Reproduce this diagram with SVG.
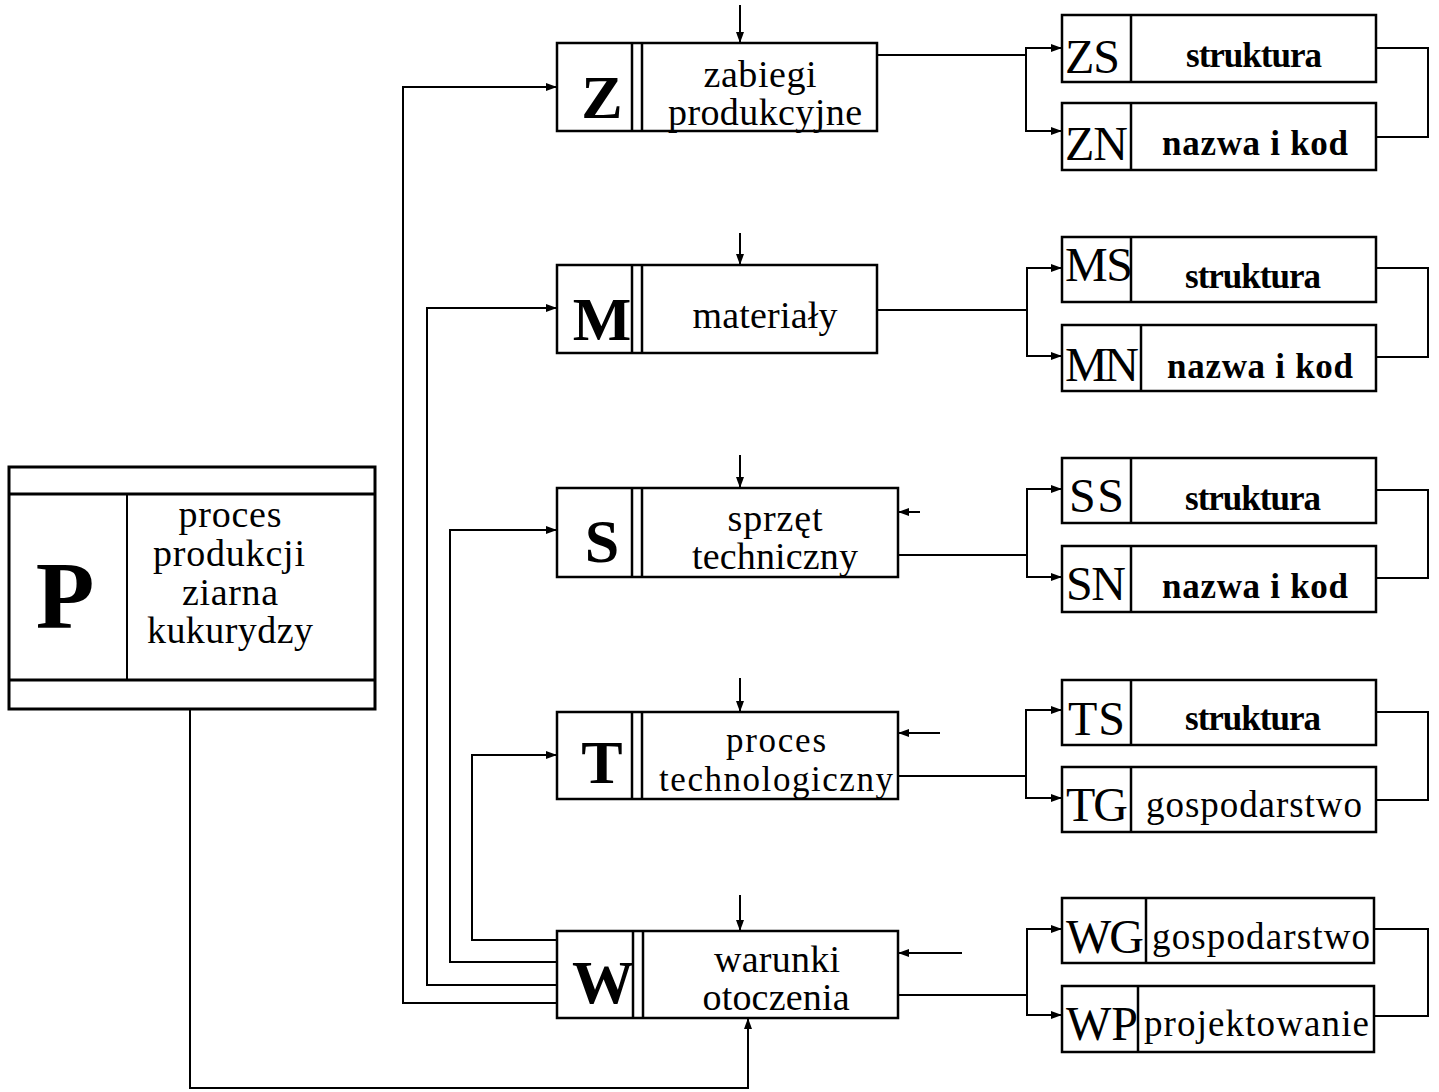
<svg xmlns="http://www.w3.org/2000/svg" width="1439" height="1092" viewBox="0 0 1439 1092">
<style>
.b{fill:#fff;stroke:#000;stroke-width:2.5}
.l{fill:none;stroke:#000;stroke-width:2.5}
.c{fill:none;stroke:#000;stroke-width:2}
.a{marker-end:url(#ar)}
text{font-family:"Liberation Serif","Times New Roman",serif;fill:#000}
.big{font-weight:bold;font-size:62px;text-anchor:middle}
.mt{font-size:38px;text-anchor:middle}
.mt2{font-size:35px;text-anchor:middle}
.code{font-size:48px}
.lab{font-size:35px;font-weight:bold;text-anchor:middle}
.lab2{font-size:37px}
</style>
<defs>
<marker id="ar" markerUnits="userSpaceOnUse" markerWidth="12" markerHeight="10" refX="11" refY="4" orient="auto">
<path d="M0,0 L11,4 L0,8 z" fill="#000"/>
</marker>
</defs>
<g id="connectors">
<path class="c a" d="M740,5 V43"/>
<path class="c a" d="M740,233 V265"/>
<path class="c a" d="M740,455 V488"/>
<path class="c a" d="M740,678 V712"/>
<path class="c a" d="M740,895 V931"/>
<path class="c a" d="M920,512 H898"/>
<path class="c a" d="M940,733 H898"/>
<path class="c a" d="M962,953 H898"/>
<path class="c a" d="M190,709 V1088 H748 V1018"/>
<path class="c a" d="M557,940 H472 V755 H557"/>
<path class="c a" d="M557,962 H450 V530 H557"/>
<path class="c a" d="M557,985 H427 V308 H557"/>
<path class="c a" d="M557,1003 H403 V87 H557"/>
<path class="c" d="M877,55 H1026"/>
<path class="c a" d="M1026,90 V48 H1062"/>
<path class="c a" d="M1026,90 V131 H1062"/>
<path class="c" d="M877,310 H1027"/>
<path class="c a" d="M1027,310 V268 H1062"/>
<path class="c a" d="M1027,310 V356 H1062"/>
<path class="c" d="M898,555 H1027"/>
<path class="c a" d="M1027,530 V489 H1062"/>
<path class="c a" d="M1027,530 V577 H1062"/>
<path class="c" d="M898,776 H1026"/>
<path class="c a" d="M1026,750 V710 H1062"/>
<path class="c a" d="M1026,750 V798 H1062"/>
<path class="c" d="M898,995 H1027"/>
<path class="c a" d="M1027,970 V929 H1062"/>
<path class="c a" d="M1027,970 V1015 H1062"/>
<path class="c" d="M1376,48 H1428 V137 H1376"/>
<path class="c" d="M1376,268 H1428 V357 H1376"/>
<path class="c" d="M1376,490 H1428 V578 H1376"/>
<path class="c" d="M1376,712 H1428 V800 H1376"/>
<path class="c" d="M1374,929 H1428 V1016 H1374"/>
</g>
<g id="P">
<rect x="9" y="467" width="366" height="242" fill="#fff" stroke="#000" stroke-width="3"/>
<path d="M9,494 H375 M9,680 H375" stroke="#000" stroke-width="3"/>
<path d="M127,494 V680" stroke="#000" stroke-width="2"/>
<text x="65" y="628" style="font-weight:bold;font-size:96px;text-anchor:middle">P</text>
<text class="mt" x="230" y="527" textLength="103">proces</text>
<text class="mt" x="229" y="566" textLength="152">produkcji</text>
<text class="mt" x="230" y="605" textLength="96">ziarna</text>
<text class="mt" x="230" y="643" textLength="166">kukurydzy</text>
</g>
<g id="Z">
<rect class="b" x="557" y="43" width="320" height="88"/>
<path class="l" d="M632,43 V131 M642,43 V131"/>
<text class="big" x="602" y="118">Z</text>
<text class="mt" x="760" y="87" textLength="113">zabiegi</text>
<text class="mt" x="765" y="125" textLength="194">produkcyjne</text>
</g>
<g id="M">
<rect class="b" x="557" y="265" width="320" height="88"/>
<path class="l" d="M632,265 V353 M642,265 V353"/>
<text class="big" x="602" y="340">M</text>
<text class="mt" x="765" y="328" textLength="145">materiały</text>
</g>
<g id="S">
<rect class="b" x="557" y="488" width="341" height="89"/>
<path class="l" d="M632,488 V577 M642,488 V577"/>
<text class="big" x="602" y="562">S</text>
<text class="mt" x="775" y="531" textLength="95">sprzęt</text>
<text class="mt" x="775" y="569" textLength="166">techniczny</text>
</g>
<g id="T">
<rect class="b" x="557" y="712" width="341" height="87"/>
<path class="l" d="M632,712 V799 M642,712 V799"/>
<text class="big" x="602" y="783">T</text>
<text class="mt2" x="776" y="752" textLength="100">proces</text>
<text class="mt2" x="776" y="791" textLength="234">technologiczny</text>
</g>
<g id="W">
<rect class="b" x="557" y="931" width="341" height="87"/>
<path class="l" d="M633,931 V1018 M643,931 V1018"/>
<text class="big" x="603" y="1003">W</text>
<text class="mt" x="777" y="972" textLength="126">warunki</text>
<text class="mt" x="776" y="1010" textLength="147">otoczenia</text>
</g>
<g id="ZS">
<rect class="b" x="1062" y="15" width="314" height="67"/>
<path class="l" d="M1131,15 V82"/>
<text class="code" x="1065" y="73" textLength="55">ZS</text>
<text class="lab" x="1254" y="67" textLength="136">struktura</text>
</g>
<g id="ZN">
<rect class="b" x="1062" y="103" width="314" height="67"/>
<path class="l" d="M1131,103 V170"/>
<text class="code" x="1065" y="160" textLength="63">ZN</text>
<text class="lab" x="1255" y="155" textLength="186">nazwa i kod</text>
</g>
<g id="MS">
<rect class="b" x="1062" y="237" width="314" height="65"/>
<path class="l" d="M1131,237 V302"/>
<text class="code" x="1065" y="281" textLength="68">MS</text>
<text class="lab" x="1253" y="288" textLength="136">struktura</text>
</g>
<g id="MN">
<rect class="b" x="1062" y="325" width="314" height="66"/>
<path class="l" d="M1141,325 V391"/>
<text class="code" x="1065" y="381" textLength="74">MN</text>
<text class="lab" x="1260" y="378" textLength="186">nazwa i kod</text>
</g>
<g id="SS">
<rect class="b" x="1062" y="458" width="314" height="65"/>
<path class="l" d="M1131,458 V523"/>
<text class="code" x="1069" y="512" textLength="55">SS</text>
<text class="lab" x="1253" y="510" textLength="136">struktura</text>
</g>
<g id="SN">
<rect class="b" x="1062" y="546" width="314" height="66"/>
<path class="l" d="M1131,546 V612"/>
<text class="code" x="1066" y="600" textLength="60">SN</text>
<text class="lab" x="1255" y="598" textLength="186">nazwa i kod</text>
</g>
<g id="TS">
<rect class="b" x="1062" y="680" width="314" height="65"/>
<path class="l" d="M1131,680 V745"/>
<text class="code" x="1068" y="735" textLength="57">TS</text>
<text class="lab" x="1253" y="730" textLength="136">struktura</text>
</g>
<g id="TG">
<rect class="b" x="1062" y="767" width="314" height="65"/>
<path class="l" d="M1131,767 V832"/>
<text class="code" x="1066" y="821" textLength="62">TG</text>
<text class="lab2" x="1146" y="817" textLength="216">gospodarstwo</text>
</g>
<g id="WG">
<rect class="b" x="1062" y="898" width="312" height="65"/>
<path class="l" d="M1146,898 V963"/>
<text class="code" x="1066" y="953" textLength="78">WG</text>
<text class="lab2" x="1152" y="949" textLength="218">gospodarstwo</text>
</g>
<g id="WP">
<rect class="b" x="1062" y="986" width="312" height="66"/>
<path class="l" d="M1138,986 V1052"/>
<text class="code" x="1066" y="1040" textLength="72">WP</text>
<text class="lab2" x="1144" y="1036" textLength="225">projektowanie</text>
</g>
</svg>
